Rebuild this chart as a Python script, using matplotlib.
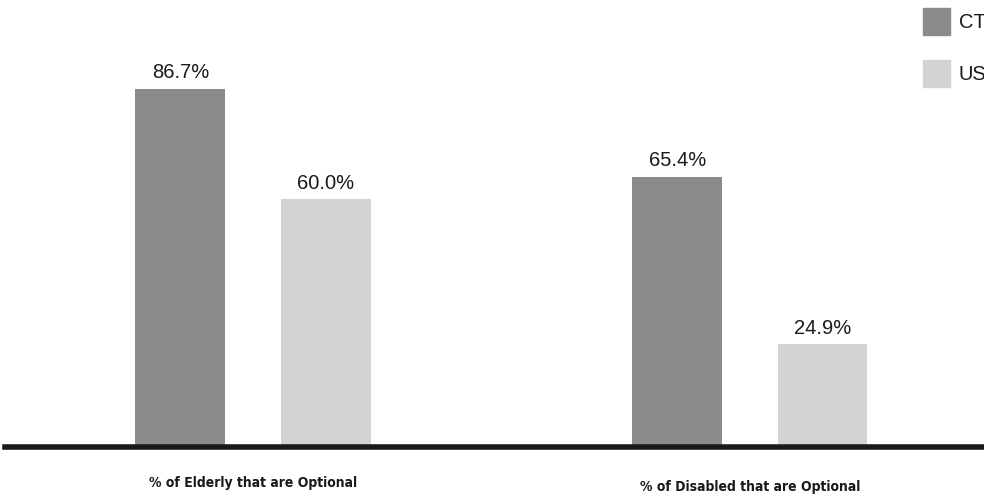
import numpy as np
import matplotlib.pyplot as plt
from matplotlib.patches import Rectangle

categories = ["% of Elderly that are Optional", "% of Disabled that are Optional"]
series_names = ["CT", "US"]
ct_values = [86.7, 65.4]
us_values = [60.0, 24.9]

ct_color = "#8a8b8c"
us_color = "#d2d3d5"

fig = plt.figure(figsize=(9.84, 4.97), dpi=100)
ax = fig.add_axes([5 / 984, 1 - 447 / 497, 979 / 984, 447 / 497])

x = np.arange(len(categories))
w = 0.181
off = 0.146
bars_ct = ax.bar(x - off, ct_values, w, color=ct_color)
bars_us = ax.bar(x + off, us_values, w, color=us_color)

for bars, vals in [(bars_ct, ct_values), (bars_us, us_values)]:
    for b, v in zip(bars, vals):
        ax.text(b.get_x() + b.get_width() / 2, v + 1.6, f"{v:.1f}%",
                ha="center", va="bottom", fontsize=14.5, color="#1a1a1a",
                family="Liberation Sans")

ax.set_xlim(-0.499, 1.471)
ax.set_ylim(0, 108.2)
for s in ["top", "right", "left"]:
    ax.spines[s].set_visible(False)
ax.spines["bottom"].set_linewidth(4)
ax.spines["bottom"].set_color("#1a1a1a")
ax.set_yticks([])
ax.set_xticks([])

# category labels below the axis
label_y = [1 - 483 / 497, 1 - 487 / 497]
for i, cat in enumerate(categories):
    xf = (5 + (x[i] + 0.499) * 497) / 984
    fig.text(xf, label_y[i], cat, ha="center", va="center", fontsize=10,
             fontweight="bold", fontstretch="condensed",
             family=["DejaVu Sans"], color="#1a1a1a")

# legend, clipped at the right edge like the original
leg_colors = [ct_color, us_color]
leg_y = [8, 60]
for name, c, ty in zip(series_names, leg_colors, leg_y):
    fig.patches.append(Rectangle((923 / 984, 1 - (ty + 27) / 497), 27 / 984, 27 / 497,
                                 transform=fig.transFigure, color=c))
    fig.text(959 / 984, 1 - (ty + 14) / 497, name, ha="left", va="center",
             fontsize=14.5, color="#1a1a1a", family="Liberation Sans")

fig.savefig("out.png", dpi=100)
